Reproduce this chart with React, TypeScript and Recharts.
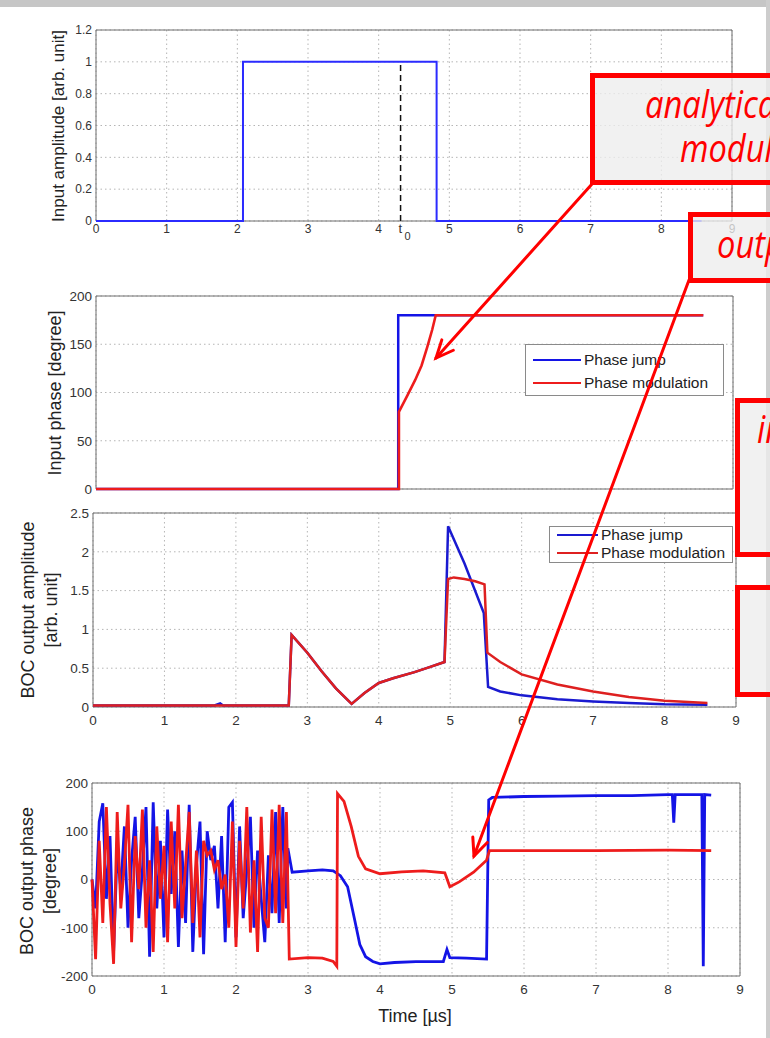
import React from 'react';
import { LineChart, Line, XAxis, YAxis, CartesianGrid, ReferenceLine, ReferenceArea, ReferenceDot, Legend } from 'recharts';

const xTicks = [0, 1, 2, 3, 4, 5, 6, 7, 8, 9];

// panel 1: input amplitude
const inAmpTime = [0, 2.08, 2.08, 4.82, 4.82, 8.57];
const inAmpValue = [0, 0, 1, 1, 0, 0];
const inAmpTicks = [0, 0.2, 0.4, 0.6, 0.8, 1, 1.2];
const t0 = 4.31;

// panel 2: input phase
const inPhaseJumpTime = [0, 4.27, 4.27, 4.8, 8.58];
const inPhaseJumpValue = [0, 0, 180, 180, 180];
const inPhaseModTime = [0, 4.28, 4.28, 4.4, 4.51, 4.6, 4.68, 4.75, 4.8, 8.58];
const inPhaseModValue = [0, 0, 80, 97, 113, 128, 147, 165, 180, 180];
const inPhaseTicks = [0, 50, 100, 150, 200];

// panel 3: BOC output amplitude
const outAmpJumpTime = [0, 1.7, 1.78, 1.82, 2.74, 2.78, 3.0, 3.2, 3.4, 3.62, 3.8, 4.0, 4.2, 4.5, 4.7, 4.92, 4.97, 5.2, 5.47, 5.53, 5.7, 6.0, 6.5, 7.0, 7.5, 8.0, 8.6];
const outAmpJumpValue = [0.02, 0.02, 0.045, 0.02, 0.02, 0.93, 0.7, 0.46, 0.24, 0.04, 0.18, 0.31, 0.37, 0.45, 0.51, 0.58, 2.33, 1.85, 1.21, 0.26, 0.2, 0.15, 0.1, 0.07, 0.05, 0.035, 0.03];
const outAmpModTime = [0, 2.74, 2.78, 3.0, 3.2, 3.4, 3.62, 3.8, 4.0, 4.2, 4.5, 4.7, 4.92, 4.97, 5.05, 5.2, 5.35, 5.48, 5.52, 5.7, 6.0, 6.5, 7.0, 7.5, 8.0, 8.6];
const outAmpModValue = [0.02, 0.02, 0.93, 0.7, 0.46, 0.24, 0.04, 0.18, 0.31, 0.37, 0.45, 0.51, 0.58, 1.65, 1.67, 1.65, 1.62, 1.58, 0.7, 0.58, 0.42, 0.29, 0.2, 0.13, 0.08, 0.05];
const outAmpTicks = [0, 0.5, 1, 1.5, 2, 2.5];

// panel 4: BOC output phase
const outPhaseJumpTime = [
  0, 0.05, 0.1, 0.15, 0.2, 0.25, 0.3, 0.35, 0.4, 0.45, 0.5, 0.55, 0.6, 0.65, 0.7, 0.75, 0.8, 0.85, 0.9, 0.95,
  1.0, 1.05, 1.1, 1.15, 1.2, 1.25, 1.3, 1.35, 1.4, 1.45, 1.5, 1.55, 1.6, 1.65, 1.7, 1.75, 1.8, 1.85, 1.9, 1.95,
  2.0, 2.05, 2.1, 2.15, 2.2, 2.25, 2.3, 2.35, 2.4, 2.45, 2.5, 2.55, 2.6, 2.65, 2.7,
  2.72, 2.78, 3.0, 3.2, 3.35, 3.45, 3.55, 3.65, 3.72, 3.8, 3.9, 4.0, 4.2, 4.5, 4.7, 4.88, 4.93, 4.97, 5.2, 5.48,
  5.51, 5.56, 6.0, 6.5, 7.0, 7.5, 8.0, 8.06, 8.08, 8.1, 8.47, 8.49, 8.51, 8.6,
];
const outPhaseJumpValue = [
  0, -60, 120, 158, -40, 90, -150, 60, -20, 110, -100, 40, 130, -80, 20, 150, -160, 160, -60, 80,
  -120, 145, -30, 100, -140, 60, -90, 155, -150, 30, 120, -155, 100, 40, 70, -60, 90, -130, 150, 160,
  -120, 110, -80, 20, 130, -100, 60, -40, -130, 50, -70, 140, -90, 150, -60,
  65, 15, 18, 20, 18, 8, -15, -85, -135, -160, -170, -175, -172, -170, -170, -170, -145, -162, -163, -165,
  165, 170, 172, 173, 174, 174, 176, 176, 118, 176, 176, -180, 176, 175,
];
const outPhaseModTime = [
  0, 0.05, 0.1, 0.15, 0.2, 0.25, 0.3, 0.35, 0.4, 0.45, 0.5, 0.55, 0.6, 0.65, 0.7, 0.75, 0.8, 0.85, 0.9, 0.95,
  1.0, 1.05, 1.1, 1.15, 1.2, 1.25, 1.3, 1.35, 1.4, 1.45, 1.5, 1.55, 1.6, 1.65, 1.7, 1.75, 1.8, 1.85, 1.9, 1.95,
  2.0, 2.05, 2.1, 2.15, 2.2, 2.25, 2.3, 2.35, 2.4, 2.45, 2.5, 2.55, 2.6, 2.65, 2.7,
  2.74, 3.0, 3.2, 3.35, 3.4, 3.41, 3.5, 3.6, 3.7, 3.8, 4.0, 4.3, 4.6, 4.9, 4.97, 5.1, 5.3, 5.48, 5.52, 6.0, 7.0, 8.0, 8.6,
];
const outPhaseModValue = [
  0, -165, 80, -90, 150, -50, -175, 140, -60, 30, 155, -130, 90, -20, 145, -100, 40, -150, 110, -40,
  70, -130, 120, -60, 155, -80, 30, 140, -90, 60, -120, 80, 50, 60, 20, 40, -20, 10, -100, 120,
  -140, 80, -60, 150, -110, 40, -150, 130, -80, -100, 145, -70, 155, -90, 140,
  -165, -162, -163, -170, -180, 178, 162, 110, 48, 22, 12, 16, 18, 14, -15, -5, 15, 40, 60, 60, 60, 61, 60,
];
const outPhaseTicks = [-200, -100, 0, 100, 200];

type Pt = { t: number; v: number };
const pts = (ts: number[], vs: number[]): Pt[] => ts.map((t, i) => ({ t, v: vs[i] }));

const BLUE = '#1414e6';
const RED = '#ee1c1c';
const SANS = "'Liberation Sans', Arial, sans-serif";

type Trace = { name?: string; color: string; width: number; data: Pt[] };
type LegendSpec = { left: number; top: number; w: number; h: number; rows: number[]; swatch: number; font: number };

const makeLegend = (spec: LegendSpec) => (props: any) => {
  const items: any[] = props.payload ?? [];
  return (
    <div style={{ position: 'relative', width: spec.w, height: spec.h, boxSizing: 'border-box', border: '1px solid #8a8a8a', background: '#fff' }}>
      {items.map((it, i) => (
        <div key={it.value} style={{ position: 'absolute', left: 7, top: spec.rows[i], height: 0, display: 'flex', alignItems: 'center', whiteSpace: 'nowrap' }}>
          <span style={{ display: 'inline-block', width: spec.swatch, borderTop: `2.5px solid ${it.color}`, marginRight: 3 }} />
          <span style={{ fontFamily: SANS, fontSize: spec.font, color: '#222' }}>{it.value}</span>
        </div>
      ))}
    </div>
  );
};

function Panel(props: {
  plotTop: number; plotBottom: number; plotLeft: number; plotRight: number;
  yDomain: [number, number]; yTicks: number[]; tickFont: number; xGap: number; showX: boolean;
  traces: Trace[]; legend?: LegendSpec; children?: React.ReactNode;
}) {
  const mTop = 10;
  const wrapTop = props.plotTop - mTop;
  return (
    <div style={{ position: 'absolute', left: 0, top: wrapTop }}>
      <LineChart
        width={770}
        height={props.plotBottom - props.plotTop + mTop + 30}
        margin={{ top: mTop, right: 770 - props.plotRight, bottom: 0, left: 0 }}
      >
        <CartesianGrid stroke="#b5b5b5" strokeDasharray="1.5 3" />
        <XAxis
          dataKey="t" type="number" domain={[0, 9]} ticks={xTicks} interval={0}
          axisLine={false} tickLine={false} tickSize={0} tickMargin={props.xGap} height={30}
          tick={props.showX ? { fontSize: props.tickFont, fill: '#333', fontFamily: SANS } : false}
        />
        <YAxis
          type="number" domain={props.yDomain} ticks={props.yTicks} interval={0} width={props.plotLeft}
          axisLine={false} tickLine={false} tickSize={0} tickMargin={4}
          tick={{ fontSize: props.tickFont, fill: '#333', fontFamily: SANS }}
        />
        <ReferenceArea x1={0} x2={9} y1={props.yDomain[0]} y2={props.yDomain[1]} fill="none" stroke="#6e6e6e" strokeWidth={1} ifOverflow="visible" />
        {props.children}
        {props.traces.map((tr, i) => (
          <Line
            key={i} data={tr.data} dataKey="v" name={tr.name} type="linear" stroke={tr.color} strokeWidth={tr.width}
            dot={false} activeDot={false} isAnimationActive={false} legendType="line"
          />
        ))}
        {props.legend && (
          <Legend
            layout="horizontal" verticalAlign="middle" align="center"
            wrapperStyle={{ left: props.legend.left, top: props.legend.top - wrapTop, width: props.legend.w, height: props.legend.h }}
            content={makeLegend(props.legend)}
          />
        )}
      </LineChart>
    </div>
  );
}

const T0Label = (p: any) => {
  const { x, y } = p.viewBox;
  return (
    <g fontFamily={SANS} fill="#333">
      <text x={x - 2} y={y + 12} fontSize={13}>t</text>
      <text x={x + 4} y={y + 19} fontSize={11}>0</text>
    </g>
  );
};

function Arrow({ x1, y1, x2, y2 }: { x1: number; y1: number; x2: number; y2: number }) {
  const a = Math.atan2(y2 - y1, x2 - x1);
  const len = 19;
  const s = 0.42;
  const h1 = [x2 - len * Math.cos(a - s), y2 - len * Math.sin(a - s)];
  const h2 = [x2 - len * Math.cos(a + s), y2 - len * Math.sin(a + s)];
  return (
    <g stroke="#ff0000" strokeWidth={3} fill="none" strokeLinecap="round">
      <line x1={x1} y1={y1} x2={x2} y2={y2} />
      <polyline points={`${h1[0]},${h1[1]} ${x2},${y2} ${h2[0]},${h2[1]}`} />
    </g>
  );
}

const RotLabel = ({ x, y, size, lines }: { x: number[]; y: number; size: number; lines: string[] }) => (
  <>
    {lines.map((l, i) => (
      <text key={l} transform={`translate(${x[i]},${y}) rotate(-90)`} textAnchor="middle" dy="0.35em" fontSize={size} fontFamily={SANS} fill="#222">{l}</text>
    ))}
  </>
);

const Callout = ({ x, y, text }: { x: number; y: number; text: string }) => (
  <text
    transform={`translate(${x},${y}) scale(0.86,1)`}
    fontFamily="'Open Sans', 'Liberation Sans', sans-serif" fontStyle="italic" fill="#ff0000" fontSize={38}
  >{text}</text>
);

const boxStyle = { fill: '#ededed', fillOpacity: 0.78, stroke: '#ff0000', strokeWidth: 5 };

export default function App() {
  return (
    <div style={{ position: 'absolute', left: 0, top: 0, width: 770, height: 1038, background: '#fff', overflow: 'hidden' }}>
      <Panel plotTop={30} plotBottom={221} plotLeft={96} plotRight={732} yDomain={[0, 1.2]} yTicks={inAmpTicks}
        tickFont={12} xGap={3} showX traces={[{ color: '#2b2bff', width: 2, data: pts(inAmpTime, inAmpValue) }]}>
        <ReferenceLine segment={[{ x: t0, y: 0 }, { x: t0, y: 1 }]} stroke="#111" strokeWidth={1.5} strokeDasharray="6 4" />
        <ReferenceDot x={t0} y={0} r={0} fill="none" stroke="none" label={T0Label} />
      </Panel>

      <Panel plotTop={296} plotBottom={489} plotLeft={96} plotRight={733} yDomain={[0, 200]} yTicks={inPhaseTicks}
        tickFont={13.5} xGap={8} showX={false}
        traces={[
          { name: 'Phase jump', color: BLUE, width: 2.5, data: pts(inPhaseJumpTime, inPhaseJumpValue) },
          { name: 'Phase modulation', color: RED, width: 2.6, data: pts(inPhaseModTime, inPhaseModValue) },
        ]}
        legend={{ left: 525, top: 344, w: 199, h: 52, rows: [15, 38], swatch: 48, font: 15.5 }}
      />

      <Panel plotTop={513} plotBottom={707} plotLeft={93} plotRight={736} yDomain={[0, 2.5]} yTicks={outAmpTicks}
        tickFont={13.5} xGap={8} showX
        traces={[
          { name: 'Phase jump', color: '#1a1ad0', width: 2.5, data: pts(outAmpJumpTime, outAmpJumpValue) },
          { name: 'Phase modulation', color: '#de2020', width: 2.5, data: pts(outAmpModTime, outAmpModValue) },
        ]}
        legend={{ left: 549, top: 526, w: 184, h: 37, rows: [8, 26], swatch: 41, font: 15.5 }}
      />

      <Panel plotTop={783} plotBottom={976} plotLeft={92} plotRight={740} yDomain={[-200, 200]} yTicks={outPhaseTicks}
        tickFont={13.5} xGap={8} showX
        traces={[
          { color: BLUE, width: 2.8, data: pts(outPhaseJumpTime, outPhaseJumpValue) },
          { color: RED, width: 2.8, data: pts(outPhaseModTime, outPhaseModValue) },
        ]}
      />

      <svg width={770} height={1038} style={{ position: 'absolute', left: 0, top: 0, pointerEvents: 'none' }}>
        <RotLabel x={[58]} y={126} size={17} lines={['Input amplitude [arb. unit]']} />
        <RotLabel x={[55]} y={393} size={18} lines={['Input phase [degree]']} />
        <RotLabel x={[28, 51]} y={610} size={18} lines={['BOC output amplitude', '[arb. unit]']} />
        <RotLabel x={[27, 50]} y={881} size={18} lines={['BOC output phase', '[degree]']} />
        <text x={415} y={1022} textAnchor="middle" fontSize={18} fontFamily={SANS} fill="#222">Time [µs]</text>

        <rect x={0} y={0} width={770} height={7} fill="#c6c6c6" />
        <rect x={766} y={0} width={4} height={1038} fill="#cdcdcd" />

        <rect x={592.5} y={75.5} width={200} height={107} {...boxStyle} />
        <Callout x={645} y={118} text="analytical" />
        <Callout x={680} y={162} text="modulation" />

        <rect x={690.5} y={214.5} width={100} height={66} {...boxStyle} />
        <Callout x={717} y={258} text="output" />

        <rect x={737.5} y={400.5} width={60} height={154} {...boxStyle} />
        <Callout x={757} y={443} text="in" />

        <rect x={737.5} y={587.5} width={60} height={107} {...boxStyle} />

        <Arrow x1={592} y1={184} x2={436} y2={358} />
        <Arrow x1={689} y1={280} x2={474} y2={856} />
      </svg>
    </div>
  );
}
